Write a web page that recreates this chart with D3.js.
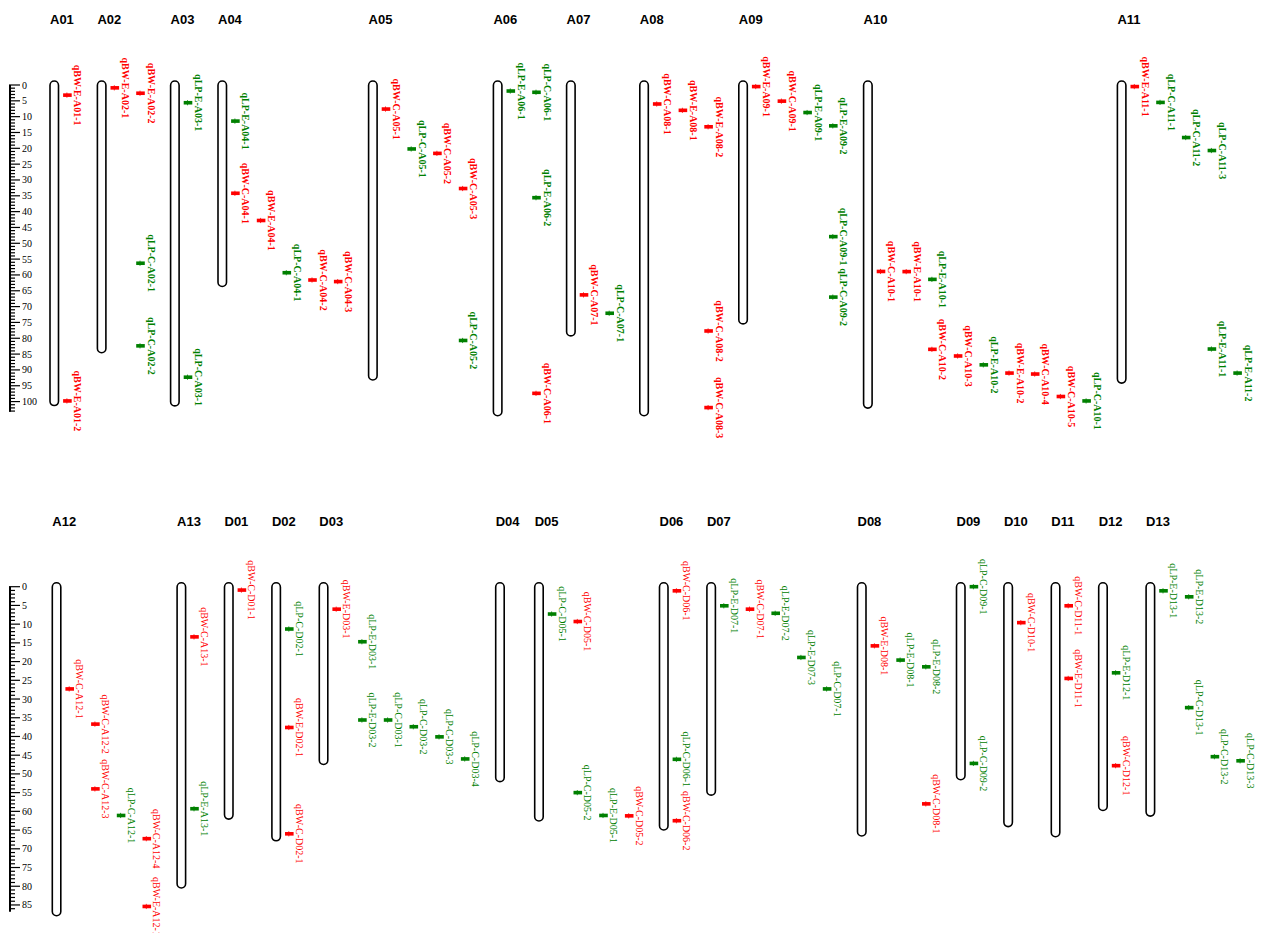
<!DOCTYPE html>
<html><head><meta charset="utf-8">
<script src="https://cdn.jsdelivr.net/npm/d3@7"></script>
<style>body{margin:0;background:#fff}</style>
</head><body><svg id="chart" width="1262" height="933"></svg>
<script>
// ---------------- DATA ----------------
const topChromosomes = ["A01","A02","A03","A04","A05","A06","A07","A08","A09","A10","A11"];
const topLengths     = [100.0, 83.3, 100.1, 62.4, 91.9, 103.2, 78.0, 103.2, 74.2, 100.8, 92.9];
const bottomChromosomes = ["A12","A13","D01","D02","D03","D04","D05","D06","D07","D08","D09","D10","D11","D12","D13"];
const bottomLengths     = [86.8, 79.4, 61.0, 66.8, 46.4, 51.0, 61.5, 63.9, 54.6, 65.5, 50.5, 63.0, 65.7, 58.7, 60.2];

const qtlNames = [
  "qBW-E-A01-1","qBW-E-A01-2",
  "qBW-E-A02-1","qBW-E-A02-2","qLP-C-A02-1","qLP-C-A02-2",
  "qLP-E-A03-1","qLP-C-A03-1",
  "qLP-E-A04-1","qBW-C-A04-1","qBW-E-A04-1","qLP-C-A04-1","qBW-C-A04-2","qBW-C-A04-3",
  "qBW-C-A05-1","qLP-C-A05-1","qBW-C-A05-2","qBW-C-A05-3","qLP-C-A05-2",
  "qLP-E-A06-1","qLP-C-A06-1","qLP-E-A06-2","qBW-C-A06-1",
  "qBW-C-A07-1","qLP-C-A07-1",
  "qBW-C-A08-1","qBW-E-A08-1","qBW-E-A08-2","qBW-C-A08-2","qBW-C-A08-3",
  "qBW-E-A09-1","qBW-C-A09-1","qLP-E-A09-1","qLP-E-A09-2","qLP-C-A09-1","qLP-C-A09-2",
  "qBW-C-A10-1","qBW-E-A10-1","qLP-E-A10-1","qBW-C-A10-2","qBW-C-A10-3","qLP-E-A10-2","qBW-E-A10-2","qBW-C-A10-4","qBW-C-A10-5","qLP-C-A10-1",
  "qBW-E-A11-1","qLP-C-A11-1","qLP-C-A11-2","qLP-C-A11-3","qLP-E-A11-1","qLP-E-A11-2",
  "qBW-C-A12-1","qBW-C-A12-2","qBW-C-A12-3","qLP-C-A12-1","qBW-C-A12-4","qBW-E-A12-1",
  "qBW-C-A13-1","qLP-E-A13-1",
  "qBW-C-D01-1",
  "qLP-C-D02-1","qBW-E-D02-1","qBW-C-D02-1",
  "qBW-E-D03-1","qLP-E-D03-1","qLP-E-D03-2","qLP-C-D03-1","qLP-C-D03-2","qLP-C-D03-3","qLP-C-D03-4",
  "qLP-C-D05-1","qBW-C-D05-1","qLP-C-D05-2","qLP-E-D05-1","qBW-C-D05-2",
  "qBW-C-D06-1","qLP-C-D06-1","qBW-C-D06-2",
  "qLP-E-D07-1","qBW-C-D07-1","qLP-E-D07-2","qLP-E-D07-3","qLP-C-D07-1",
  "qBW-E-D08-1","qLP-E-D08-1","qLP-E-D08-2","qBW-C-D08-1",
  "qLP-C-D09-1","qLP-C-D09-2",
  "qBW-C-D10-1",
  "qBW-C-D11-1","qBW-E-D11-1",
  "qLP-E-D12-1","qBW-C-D12-1",
  "qLP-E-D13-1","qLP-E-D13-2","qLP-C-D13-1","qLP-C-D13-2","qLP-C-D13-3"
];
const qtlPositions = [
  3.2, 99.8,
  0.9, 2.6, 56.3, 82.4,
  5.6, 92.3,
  11.4, 34.2, 42.8, 59.3, 61.6, 62.1,
  7.6, 20.2, 21.6, 32.7, 80.7,
  1.9, 2.3, 35.6, 97.4,
  66.3, 72.1,
  6.0, 8.0, 13.2, 77.7, 101.9,
  0.5, 5.1, 8.7, 12.9, 47.9, 67.0,
  58.9, 58.95, 61.4, 83.5, 85.6, 88.4, 91.0, 91.3, 98.4, 99.8,
  0.5, 5.5, 16.6, 20.7, 83.4, 91.0,
  27.3, 36.7, 54.0, 61.1, 67.3, 85.4,
  13.4, 59.3,
  0.9,
  11.3, 37.6, 66.0,
  6.0, 14.7, 35.6, 35.6, 37.4, 40.1, 46.0,
  7.3, 9.3, 55.0, 61.1, 61.2,
  1.1, 46.1, 62.5,
  5.1, 6.0, 7.1, 18.9, 27.3,
  15.8, 19.6, 21.4, 58.0,
  0.0, 47.2,
  9.6,
  5.1, 24.5,
  23.0, 47.8,
  1.1, 2.7, 32.3, 45.4, 46.5
];
const majorTickStep = 5;

// ---------------- DRAWING ----------------
const traitColor = {BW: "#ff0000", LP: "#008000"};
const svg = d3.select("#chart");
const qtls = qtlNames.map((n, i) => ({
  name: n, pos: qtlPositions[i], chrom: n.split("-")[2], trait: n.slice(1, 3)
}));

function drawPanel(cfg) {
  const {names, lengths, x0, y0, H, titleY, bold} = cfg;
  const maxLen = d3.max(lengths);
  const y = d3.scaleLinear().domain([0, maxLen]).range([y0, y0 + H]);
  const g = svg.append("g");

  // ruler axis
  const ax = 10;
  const ticks = d3.range(0, Math.floor(maxLen) + 1, 1);
  g.append("line").attr("x1", ax).attr("x2", ax)
    .attr("y1", y(0)).attr("y2", y(maxLen))
    .attr("stroke", "#000").attr("stroke-width", 2);
  g.selectAll("line.tick").data(ticks).enter().append("line")
    .attr("x1", ax - 1).attr("x2", d => d % majorTickStep === 0 ? ax + 10 : ax + 5)
    .attr("y1", d => y(d)).attr("y2", d => y(d))
    .attr("stroke", "#000").attr("stroke-width", 1.2);
  g.selectAll("text.tl").data(ticks.filter(d => d % majorTickStep === 0)).enter().append("text")
    .attr("x", ax + 12).attr("y", d => y(d))
    .attr("dominant-baseline", "central")
    .style("font-family", "'Liberation Serif', 'Times New Roman', serif")
    .style("font-size", "10px").text(d => d);

  const labelFont = "'Liberation Serif', 'Times New Roman', serif";
  const measure = svg.append("text")
    .style("font-family", labelFont).style("font-size", "10px")
    .style("font-weight", bold ? "bold" : "normal");

  let x = x0;
  names.forEach((name, ci) => {
    const list = qtls.filter(q => q.chrom === name).sort((a, b) => a.pos - b.pos);
    let lane = 0, prev = null;
    list.forEach(q => {
      measure.text(q.name);
      q.len = measure.node().getComputedTextLength();
      q.cy = y(q.pos);
      if (prev && q.cy - q.len / 2 < prev.cy + prev.len / 2) lane++;
      q.lane = lane; prev = q;
    });
    const nLanes = list.length ? lane + 1 : 0;

    // title
    g.append("text").attr("x", x).attr("y", titleY)
      .style("font-family", "'Liberation Sans', Arial, sans-serif")
      .style("font-weight", "bold").style("font-size", "13px").text(name);

    // chromosome body
    g.append("rect").attr("x", x).attr("y", y(0) - 4)
      .attr("width", 8.5).attr("height", y(lengths[ci]) - y(0) + 8)
      .attr("rx", 4.25).attr("ry", 4.25)
      .attr("fill", "#fff").attr("stroke", "#000").attr("stroke-width", 1.6);

    const qg = g.selectAll(null).data(list).enter().append("g")
      .attr("transform", d => `translate(${x + 17.4 + d.lane * 25.7},${d.cy})`);
    qg.append("rect").attr("x", -4.3).attr("y", -1.8).attr("width", 8.6).attr("height", 3.6)
      .attr("fill", d => traitColor[d.trait]);
    qg.append("line").attr("x1", -0.5).attr("x2", -0.5).attr("y1", -2.6).attr("y2", 2.6)
      .attr("stroke", d => traitColor[d.trait]).attr("stroke-width", 0.8);
    qg.append("text")
      .attr("transform", `translate(${bold ? 10.5 : 10},0) rotate(90)`)
      .attr("text-anchor", "middle").attr("dominant-baseline", "central")
      .style("font-family", labelFont).style("font-size", "10px")
      .style("font-weight", bold ? "bold" : "normal")
      .attr("fill", d => traitColor[d.trait]).text(d => d.name);

    x += nLanes ? 21.6 + nLanes * 25.8 : 39;
  });
  measure.remove();
}

drawPanel({names: topChromosomes, lengths: topLengths, x0: 50, y0: 85, H: 326.7, titleY: 24, bold: true});
drawPanel({names: bottomChromosomes, lengths: bottomLengths, x0: 52.3, y0: 586.7, H: 325, titleY: 526, bold: false});
</script>
</body></html>
